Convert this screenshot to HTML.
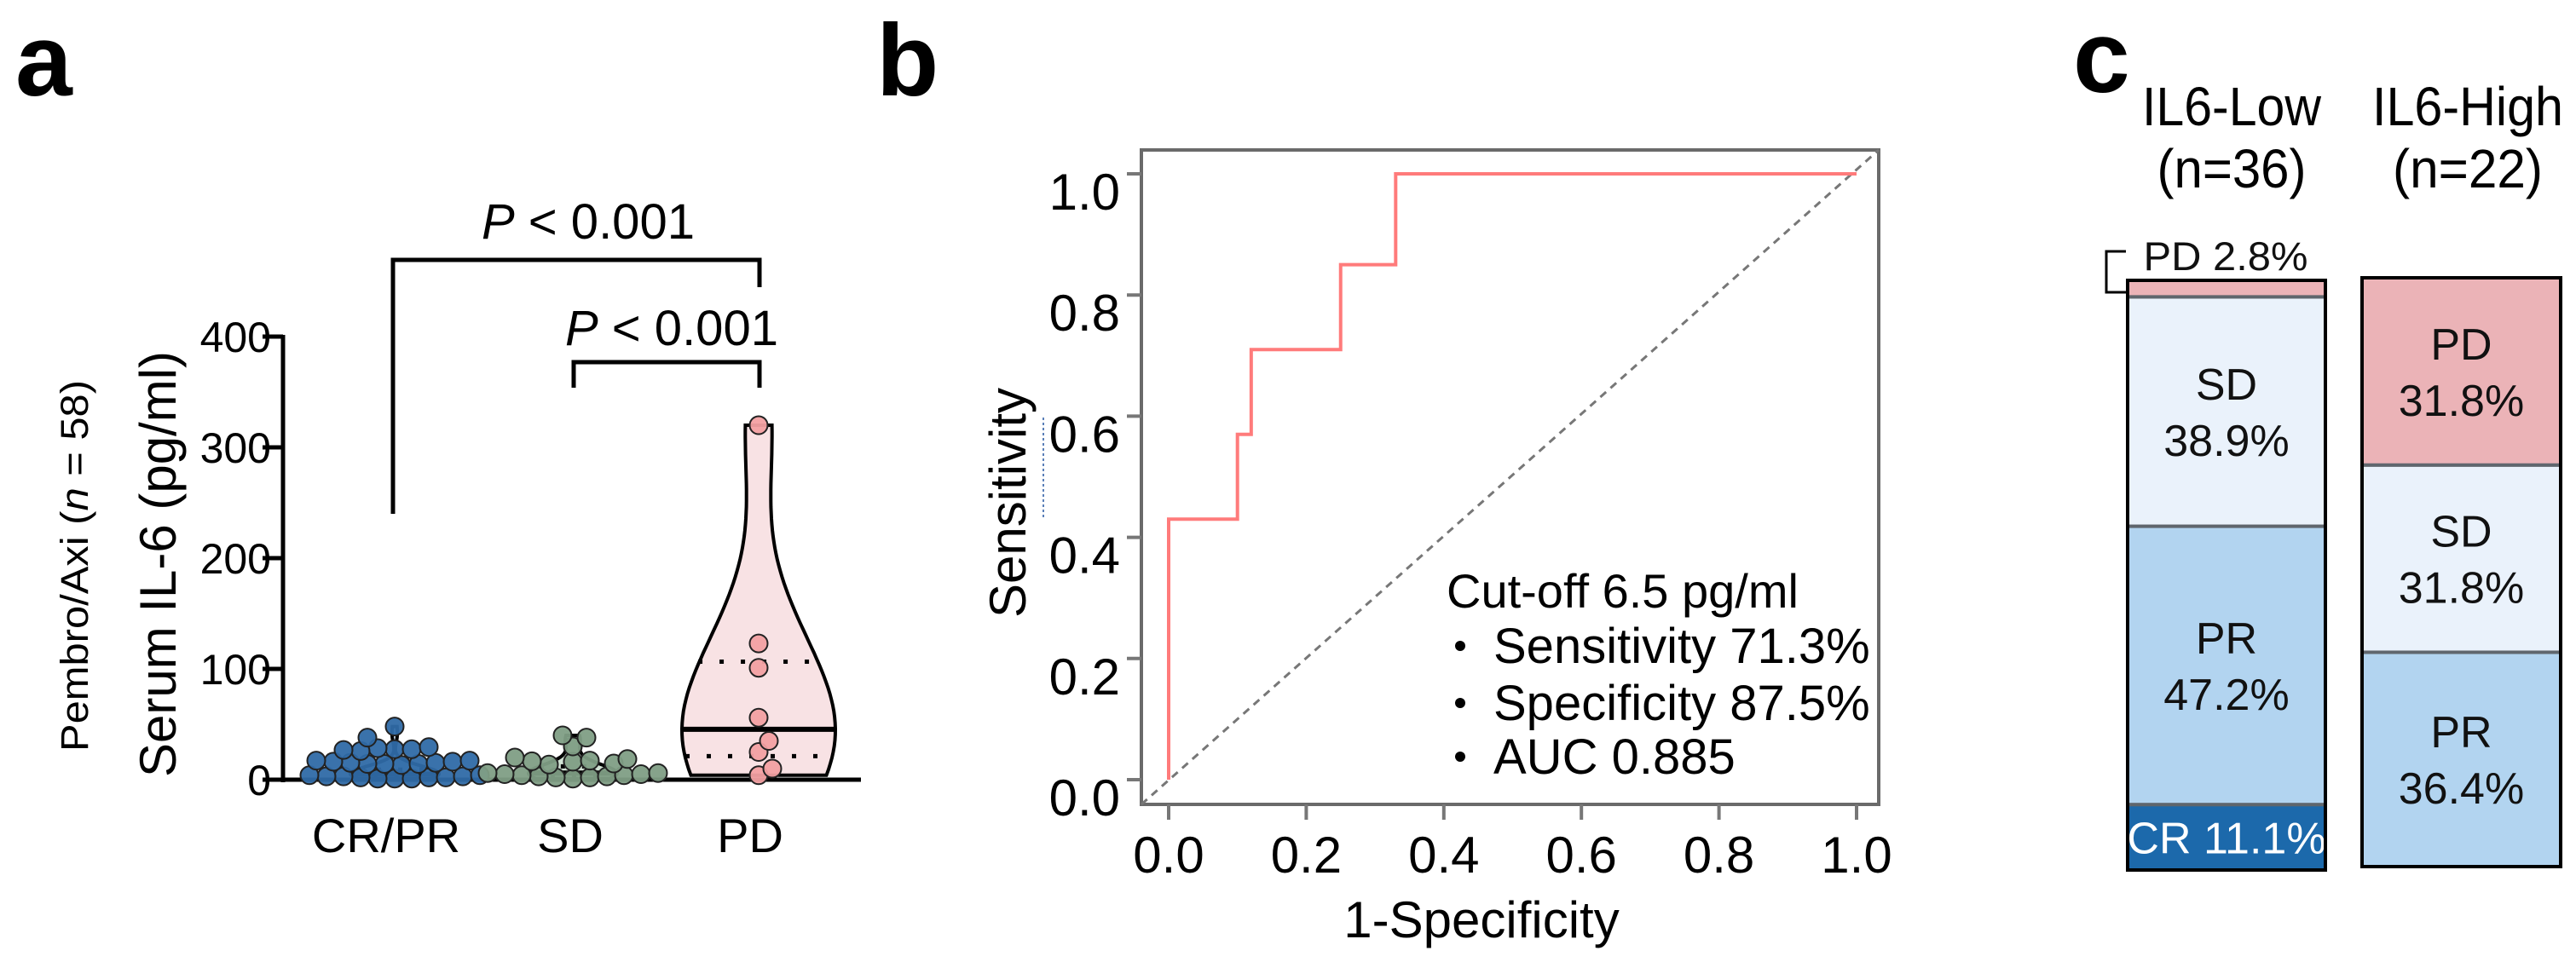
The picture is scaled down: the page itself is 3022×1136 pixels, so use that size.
<!DOCTYPE html>
<html><head><meta charset="utf-8">
<style>
html,body{margin:0;padding:0;background:#fff;}
svg{display:block;font-family:"Liberation Sans",Arial,sans-serif;}
</style></head>
<body>
<svg id="fig" width="3022" height="1136" viewBox="0 0 3022 1136" xmlns="http://www.w3.org/2000/svg">
<rect width="3022" height="1136" fill="#fff"/>
<text x="18" y="112" font-size="120" font-weight="bold">a</text>
<text x="1028" y="112" font-size="120" font-weight="bold">b</text>
<text x="2432" y="108" font-size="120" font-weight="bold">c</text>
<g id="pa"></g>
<g id="pb"></g>
<g id="pc"></g>
</svg>
<script>
// ---------- Panel a data ----------
const groups = ["CR/PR", "SD", "PD"];
const crprValues = [48,38,13,12,11,10,9,9,8,8,7,7,6,6,5,5,5,4,4,4,3,3,3,2,2,2,1,1,1];
const sdValues = [40,38,30,20,14,12,10,9,8,7,6,6,5,5,4,4,3,3,2,2,1];
const pdValues = [320,123,101,56,35,25,10,4];
const yTicksA = [0,100,200,300,400];
// ---------- Panel b data ----------
const rocFpr = [0,0,0.1,0.1,0.12,0.12,0.25,0.25,0.33,0.33,1.0];
const rocTpr = [0,0.43,0.43,0.57,0.57,0.71,0.71,0.85,0.85,1.0,1.0];
const bTicks = [0,0.2,0.4,0.6,0.8,1.0];
const bTickLabels = ["0.0","0.2","0.4","0.6","0.8","1.0"];
// ---------- Panel c data ----------
const cBars = ["IL6-Low","IL6-High"];
const cN = ["(n=36)","(n=22)"];
const cCategories = ["CR","PR","SD","PD"];
const lowPct = [11.1,47.2,38.9,2.8];
const highPct = [0,36.4,31.8,31.8];

const NS="http://www.w3.org/2000/svg";
function mk(parent, tag, attrs, text){
  const e=document.createElementNS(NS,tag);
  for(const k in attrs) e.setAttribute(k,attrs[k]);
  if(text!==undefined) e.textContent=text;
  parent.appendChild(e); return e;
}

// ================= Panel a =================
(function(){
  const g=document.getElementById('pa');
  const y0=915, y400=395;
  const ya=v=>y0-(v/400)*(y0-y400);
  const xc=[463,672,890];
  const xa=i=>xc[i];
  let e=mk(g,'line',{x1:332,y1:y400-2,x2:332,y2:y0+3,stroke:'#000','stroke-width':5});
   
  e=mk(g,'line',{x1:330,y1:y0,x2:1010,y2:y0,stroke:'#000','stroke-width':5});
   
  yTicksA.forEach(t=>{
    let l=mk(g,'line',{x1:308,y1:ya(t),x2:332,y2:ya(t),stroke:'#000','stroke-width':5});
     
    let tx=mk(g,'text',{x:318,y:ya(t)+18,'font-size':50,'text-anchor':'end'},String(t));
     
  });
  e=mk(g,'text',{x:0,y:0,'font-size':60,'text-anchor':'middle',transform:'translate(206,662) rotate(-90)',textLength:500,lengthAdjust:'spacingAndGlyphs'},'Serum IL-6 (pg/ml)');
   
  e=mk(g,'text',{x:0,y:0,'font-size':45,'text-anchor':'middle',transform:'translate(103,664) rotate(-90)',textLength:436,lengthAdjust:'spacingAndGlyphs'});
   
  e.innerHTML='Pembro/Axi (<tspan font-style="italic">n</tspan> = 58)';
  groups.forEach((c,i)=>{
    let t=mk(g,'text',{x:[453,669,880][i],y:1000,'font-size':56,'text-anchor':'middle'},c);
     
  });
  const sets=[crprValues,sdValues,pdValues];
  const fills=['#c9dcef','#d3e4d6','#f8e2e4'];
  const ptFill=['#2f6aa6','#7f9e85','#f2a0a2'];
  const maxHalf=[52,52,90];
  const bw=[6,7,70];
  const spread=[100,100,30];
  sets.forEach((vals,i)=>{
    const mn=Math.min(...vals), mx=Math.max(...vals);
    const N=60;
    let dmax=0; const dens=[];
    for(let k=0;k<=N;k++){
      const v=mn+(mx-mn)*k/N; let d=0;
      vals.forEach(x=>{d+=Math.exp(-0.5*((v-x)/bw[i])**2);});
      dens.push([v,d]); dmax=Math.max(dmax,d);
    }
    const right=dens.map(([v,d])=>[xa(i)+d/dmax*maxHalf[i],ya(v)]);
    const left=dens.slice().reverse().map(([v,d])=>[xa(i)-d/dmax*maxHalf[i],ya(v)]);
    const all=right.concat(left);
    let p=mk(g,'path',{d:'M'+all.map(q=>q[0].toFixed(1)+','+q[1].toFixed(1)).join('L')+'Z',fill:fills[i],stroke:'#000','stroke-width':4});
     
    const s=vals.slice().sort((a,b)=>a-b);
    const q=f=>{const pos=(s.length-1)*f,lo=Math.floor(pos),hi=Math.ceil(pos);return s[lo]+(s[hi]-s[lo])*(pos-lo);};
    const halfAt=v=>{let best=dens[0];dens.forEach(dd=>{if(Math.abs(dd[0]-v)<Math.abs(best[0]-v))best=dd;});return best[1]/dmax*maxHalf[i];};
    [[0.5,false],[0.25,true],[0.75,true]].forEach(([f,dot])=>{
      const v=q(f),h=halfAt(v);
      let l=mk(g,'line',{x1:xa(i)-h,y1:ya(v),x2:xa(i)+h,y2:ya(v),stroke:'#000','stroke-width':dot?5:6,'stroke-dasharray':dot?'5,20':'none'});
       
    });
    const r=10.5, placed=[];
    vals.slice().sort((a,b)=>a-b).forEach(v=>{
      let py=ya(v), px=null;
      for(let tries=0;tries<20 && px===null;tries++){
        for(let k=0;k<80;k++){
          const off=(k%2?1:-1)*Math.ceil(k/2)*4;
          if(Math.abs(off)>spread[i]) break;
          const cx=xa(i)+off;
          if(placed.every(([qx,qy])=>Math.hypot(qx-cx,qy-py)>=r*1.6)){px=cx;break;}
        }
        if(px===null) py-=6;
      }
      if(px===null) px=xa(i);
      placed.push([px,py]);
      let c=mk(g,'circle',{cx:px,cy:py,r:r,fill:ptFill[i],stroke:'#222','stroke-width':2,'fill-opacity':0.95});
       
    });
  });
  e=mk(g,'path',{d:'M461,603 V305 H891 V337',fill:'none',stroke:'#000','stroke-width':5});
   
  e=mk(g,'path',{d:'M673,455 V425 H891 V455',fill:'none',stroke:'#000','stroke-width':5});
   
  e=mk(g,'text',{x:690,y:280,'font-size':58,'text-anchor':'middle',textLength:250,lengthAdjust:'spacingAndGlyphs'});
  e.innerHTML='<tspan font-style="italic">P</tspan> &lt; 0.001';
   
  e=mk(g,'text',{x:788,y:405,'font-size':58,'text-anchor':'middle',textLength:250,lengthAdjust:'spacingAndGlyphs'});
  e.innerHTML='<tspan font-style="italic">P</tspan> &lt; 0.001';
   
})();

// ================= Panel b =================
(function(){
  const g=document.getElementById('pb');
  const xb=v=>1371+v*807, yb=v=>915-v*711;
  let e=mk(g,'rect',{x:1339,y:176,width:865,height:768,fill:'none',stroke:'#6a6a6a','stroke-width':4});
   
  e=mk(g,'line',{x1:1339,y1:944,x2:2204,y2:176,stroke:'#777','stroke-width':3,'stroke-dasharray':'9,7'});
   
  bTicks.forEach((t,i)=>{
    let l=mk(g,'line',{x1:1322,y1:yb(t),x2:1339,y2:yb(t),stroke:'#777','stroke-width':4});
     
    let tx=mk(g,'text',{x:1314,y:yb(t)+42,'font-size':60,'text-anchor':'end'},bTickLabels[i]);
     
    l=mk(g,'line',{x1:xb(t),y1:944,x2:xb(t),y2:962,stroke:'#777','stroke-width':4});
     
    tx=mk(g,'text',{x:xb(t),y:1024,'font-size':60,'text-anchor':'middle'},bTickLabels[i]);
     
  });
  e=mk(g,'polyline',{points:rocFpr.map((f,i)=>xb(f)+','+yb(rocTpr[i])).join(' '),fill:'none',stroke:'#ff7b7b','stroke-width':4});
   
  e=mk(g,'line',{x1:1224,y1:490,x2:1224,y2:610,stroke:'#5a7fb8','stroke-width':2,'stroke-dasharray':'3,3'});
   
  e=mk(g,'text',{x:0,y:0,'font-size':60,'text-anchor':'middle',transform:'translate(1203,590) rotate(-90)'},'Sensitivity');
   
  e=mk(g,'text',{x:1738,y:1100,'font-size':60,'text-anchor':'middle'},'1-Specificity');
   
  e=mk(g,'text',{x:1697,y:713,'font-size':56},'Cut-off  6.5 pg/ml');
   
  [['Sensitivity 71.3%',778],['Specificity 87.5%',845],['AUC 0.885',908]].forEach(([t,y])=>{
    let b=mk(g,'circle',{cx:1713,cy:y-20,r:6,fill:'#000'});
     
    let tx=mk(g,'text',{x:1752,y:y,'font-size':58},t);
     
  });
})();

// ================= Panel c =================
(function(){
  const g=document.getElementById('pc');
  const bars=[{x:2496,w:232,top:329,bot:1021,pct:lowPct,tx:2618,tw:210,nw:175},{x:2771,w:233,top:326,bot:1017,pct:highPct,tx:2895,tw:224,nw:176}];
  const fills=['#1c69ab','#b2d4f0','#eaf2fb','#ebb3b7'];
  bars.forEach((b,bi)=>{
    const H=b.bot-b.top; let y=b.bot;
    const tot=b.pct.reduce((a,c)=>a+c,0);
    b.pct.forEach((p,ci)=>{
      if(p<=0) return;
      const h=p/tot*H; const yt=y-h;
      let r=mk(g,'rect',{x:b.x,y:yt,width:b.w,height:h,fill:fills[ci],stroke:'#5f666d','stroke-width':4});
       
      const cx=b.x+b.w/2, mid=yt+h/2;
      if(ci===0){
        let t=mk(g,'text',{x:cx,y:mid+19,'font-size':52,'text-anchor':'middle',fill:'#fff'},cCategories[ci]+' '+p.toFixed(1)+'%');
         
      } else if(h>80){
        let t=mk(g,'text',{x:cx,y:mid-14,'font-size':52,'text-anchor':'middle',fill:'#111'},cCategories[ci]);
         
        t=mk(g,'text',{x:cx,y:mid+52,'font-size':52,'text-anchor':'middle',fill:'#111'},p.toFixed(1)+'%');
         
      } else {
        let t=mk(g,'text',{x:2611,y:317,'font-size':47,'text-anchor':'middle',fill:'#111',textLength:193,lengthAdjust:'spacingAndGlyphs'},cCategories[ci]+' '+p.toFixed(1)+'%');
         
        let br=mk(g,'path',{d:`M2494,343 H2471 V295 H2494`,fill:'none',stroke:'#000','stroke-width':3});
         
      }
      y=yt;
    });
    let o=mk(g,'rect',{x:b.x,y:b.top,width:b.w,height:b.bot-b.top,fill:'none',stroke:'#000','stroke-width':4});
     
    let t=mk(g,'text',{x:b.tx,y:147,'font-size':64,'text-anchor':'middle',textLength:b.tw,lengthAdjust:'spacingAndGlyphs'},cBars[bi]);
     
    t=mk(g,'text',{x:b.tx,y:220,'font-size':64,'text-anchor':'middle',textLength:b.nw,lengthAdjust:'spacingAndGlyphs'},cN[bi]);
     
  });
})();
</script>
</body></html>
